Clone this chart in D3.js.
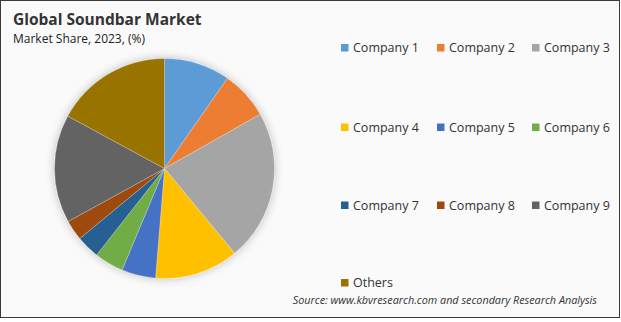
<!DOCTYPE html>
<html>
<head>
<meta charset="utf-8">
<script src="https://cdn.jsdelivr.net/npm/d3@7"></script>
<style>
  html, body { margin: 0; padding: 0; background: #ffffff; }
  svg { display: block; }
</style>
</head>
<body>
<div id="chart"></div>
<script>
// Chart data
const companies = ['Company 1', 'Company 2', 'Company 3', 'Company 4', 'Company 5',
                   'Company 6', 'Company 7', 'Company 8', 'Company 9', 'Others'];
const shares = [9.7, 7.1, 22.2, 12.3, 5.0, 4.3, 3.4, 3.0, 15.9, 17.1];
const colors = ['#5B9BD5', '#ED7D31', '#A5A5A5', '#FFC000', '#4472C4',
                '#70AD47', '#255E91', '#9E480E', '#636363', '#997300'];

const width = 621;
const height = 322;

const svg = d3.select('#chart')
    .append('svg')
    .attr('width', width)
    .attr('height', height);

// Background and frame
svg.append('rect')
    .attr('x', 0.5)
    .attr('y', 0.5)
    .attr('width', 619)
    .attr('height', 317)
    .attr('fill', '#fafafa')
    .attr('stroke', '#3a3a3a')
    .attr('stroke-width', 1);

// Soft shadow for the pie
const defs = svg.append('defs');
const glow = defs.append('filter')
    .attr('id', 'pie-shadow')
    .attr('x', '-20%').attr('y', '-20%')
    .attr('width', '140%').attr('height', '140%');
glow.append('feGaussianBlur')
    .attr('in', 'SourceAlpha')
    .attr('stdDeviation', 5)
    .attr('result', 'blur');
glow.append('feComponentTransfer')
    .append('feFuncA')
    .attr('type', 'linear')
    .attr('slope', 0.25);
const merge = glow.append('feMerge');
merge.append('feMergeNode');
merge.append('feMergeNode').attr('in', 'SourceGraphic');

// Titles
svg.append('text')
    .attr('x', 13)
    .attr('y', 25)
    .style('font-family', 'Open Sans, sans-serif')
    .style('font-size', '15.5px')
    .style('font-weight', 'bold')
    .style('fill', '#333')
    .text('Global Soundbar Market');

svg.append('text')
    .attr('x', 13)
    .attr('y', 43)
    .style('font-family', 'Open Sans, sans-serif')
    .style('font-size', '12px')
    .style('fill', '#222')
    .text('Market Share, 2023, (%)');

// Pie
const data = companies.map((name, i) => ({ name, value: shares[i], color: colors[i] }));

const pie = d3.pie()
    .value(d => d.value)
    .sort(null);

const radius = 110;
const arc = d3.arc()
    .innerRadius(0)
    .outerRadius(radius);

const pieGroup = svg.append('g')
    .attr('transform', 'translate(164.5,168.5)')
    .attr('filter', 'url(#pie-shadow)');

pieGroup.selectAll('path')
    .data(pie(data))
    .enter()
    .append('path')
    .attr('d', arc)
    .attr('fill', d => d.data.color)
    .attr('stroke', '#ffffff')
    .attr('stroke-width', 0.4)
    .attr('stroke-opacity', 0.6);

// Legend
const colX = [341, 437, 532];
const rowY = [48, 127.5, 205.5, 283];

const legend = svg.append('g');
const items = legend.selectAll('g')
    .data(data)
    .enter()
    .append('g')
    .attr('transform', (d, i) => `translate(${colX[i % 3]},${rowY[Math.floor(i / 3)]})`);

items.append('rect')
    .attr('x', 0)
    .attr('y', -4)
    .attr('width', 7.5)
    .attr('height', 7.5)
    .attr('fill', d => d.color);

items.append('text')
    .attr('x', 12)
    .attr('y', 0)
    .attr('dy', '0.35em')
    .style('font-family', 'Open Sans, sans-serif')
    .style('font-size', '12.5px')
    .style('fill', '#333')
    .text(d => d.name);

// Source note
svg.append('text')
    .attr('x', 597)
    .attr('y', 304)
    .attr('text-anchor', 'end')
    .style('font-family', 'Open Sans, sans-serif')
    .style('font-size', '10.8px')
    .style('font-style', 'italic')
    .style('fill', '#333')
    .text('Source: www.kbvresearch.com and secondary Research Analysis');
</script>
</body>
</html>
